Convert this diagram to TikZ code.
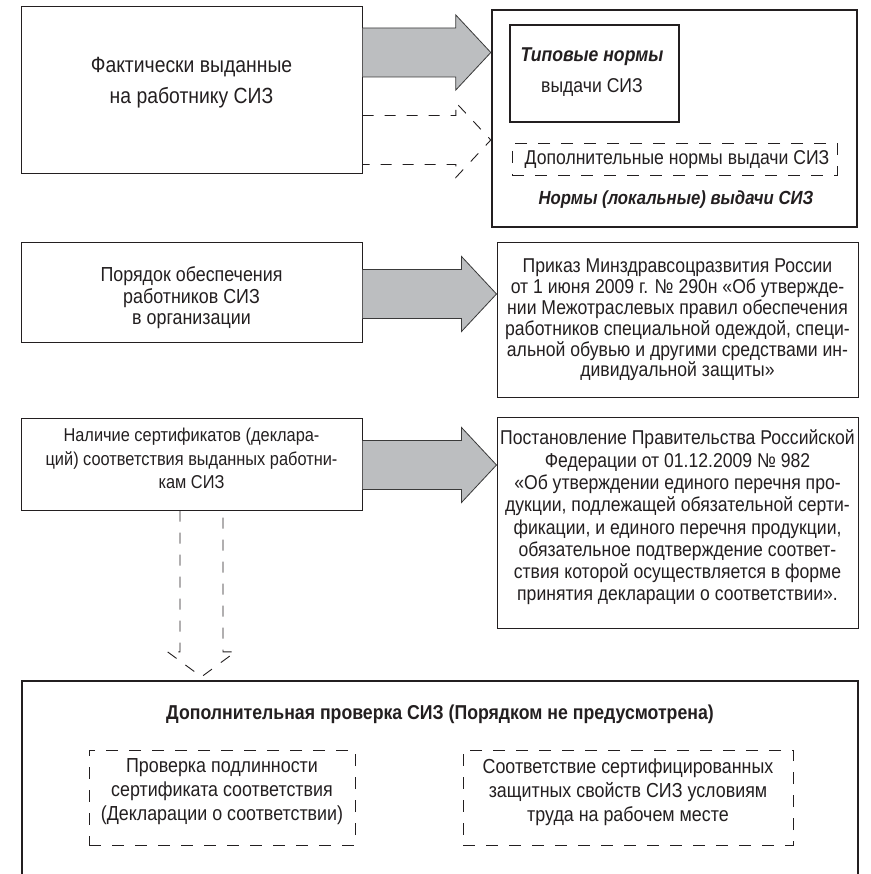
\documentclass[tikz,border=0pt]{standalone}
\usepackage{fontspec}
\setmainfont{Liberation Sans}[FakeStretch=0.88]
\usetikzlibrary{calc}

\definecolor{ink}{HTML}{231F20}
\definecolor{arrowfill}{HTML}{BCBEC0}
\definecolor{arrowline}{HTML}{3A3A3A}

\tikzset{
  frame/.style={draw=ink, line width=1pt, rectangle, inner sep=0pt},
  heavyframe/.style={frame, line width=2.4pt},
  dashframe/.style={frame, line width=0.9pt, dash pattern=on 12pt off 11pt},
  txt/.style={text=ink, align=center, inner sep=0pt,
    font=\fontsize{20}{20.8}\selectfont},
  % horizontal block arrow: body 49pt high, head 75pt high, head 35pt long
  hblock/.style={to path={let \p1=(\tikztostart), \p2=(\tikztotarget) in
    (\x1,\y1+24.5pt) -- (\x2-35pt,\y1+24.5pt) -- (\x2-35pt,\y1+37.5pt)
    -- (\x2,\y1) -- (\x2-35pt,\y1-37.5pt) -- (\x2-35pt,\y1-24.5pt)
    -- (\x1,\y1-24.5pt)}},
  % vertical block arrow pointing down
  vblock/.style={to path={let \p1=(\tikztostart), \p2=(\tikztotarget) in
    (\x1-21.5pt,\y1) -- (\x1-21.5pt,\y2+25pt) -- (\x1-34pt,\y2+25pt)
    -- (\x1,\y2) -- (\x1+34pt,\y2+25pt) -- (\x1+21.5pt,\y2+25pt)
    -- (\x1+21.5pt,\y1)}},
  solidarrow/.style={fill=arrowfill, draw=arrowline, line width=0.8pt, line join=miter},
  dasharrow/.style={draw=ink, line width=0.9pt, dash pattern=on 11pt off 11pt}
}

\begin{document}
\begin{tikzpicture}[x=1pt, y=-1pt]
\clip (0,0) rectangle (870,874);
\fill[white] (0,0) rectangle (870,874);

% left column
\node[frame, minimum width=341pt, minimum height=167pt] (f1) at (191.5,90.5) {};
\node[txt, font=\fontsize{22}{31}\selectfont] (f1t) at (191.5,82.5)
  {Фактически выданные\\на работнику СИЗ};

\node[frame, minimum width=341pt, minimum height=99pt] (f2) at (191.5,292.5) {};
\node[txt, font=\fontsize{20.3}{21.5}\selectfont] (f2t) at (191.5,298)
  {Порядок обеспечения\\работников СИЗ\\в организации};

\node[frame, minimum width=341pt, minimum height=92pt] (f3) at (191.5,464) {};
\node[txt, font=\fontsize{18.6}{23.5}\selectfont] (f3t) at (191.5,458.5)
  {Наличие сертификатов (деклара-\\ций) соответствия выданных работни-\\кам СИЗ};

% right column
\node[heavyframe, minimum width=365pt, minimum height=217pt] (r1) at (674.5,118.5) {};
\node[frame, line width=2pt, minimum width=169pt, minimum height=97pt] (t1) at (594.5,73.5) {};
\node[txt, font=\fontsize{20}{31}\selectfont] (t1t) at (592,72)
  {{\bfseries\itshape Типовые нормы}\\выдачи СИЗ};
\node[dashframe, minimum width=325pt, minimum height=32pt] (d1) at (674.5,159) {};
\node[txt] (d1t) at (677,160) {Дополнительные нормы выдачи СИЗ};
\node[txt, font=\fontsize{19}{20.8}\bfseries\itshape] (r1t) at (676,200)
  {Нормы (локальные) выдачи СИЗ};

\node[frame, minimum width=361pt, minimum height=154pt] (r2) at (677.5,320) {};
\node[txt] (r2t) at (677.5,320)
  {Приказ Минздравсоцразвития России\\
   от 1 июня 2009 г. № 290н «Об утвержде-\\
   нии Межотраслевых правил обеспечения\\
   работников специальной одеждой, специ-\\
   альной обувью и другими средствами ин-\\
   дивидуальной защиты»};

\node[frame, minimum width=361pt, minimum height=211pt] (r3) at (677.5,522.5) {};
\node[txt, font=\fontsize{20}{22.3}\selectfont] (r3t) at (677.5,517.5)
  {Постановление Правительства Российской\\
   Федерации от 01.12.2009 № 982\\
   «Об утверждении единого перечня про-\\
   дукции, подлежащей обязательной серти-\\
   фикации, и единого перечня продукции,\\
   обязательное подтверждение соответ-\\
   ствия которой осуществляется в форме\\
   принятия декларации о соответствии».};

% bottom block
\node[heavyframe, minimum width=836pt, minimum height=214pt] (b) at (440,788) {};
\node[txt, font=\fontsize{20.1}{20.8}\bfseries] (bt) at (440,714)
  {Дополнительная проверка СИЗ (Порядком не предусмотрена)};
\node[dashframe, minimum width=266pt, minimum height=95pt] (b1) at (222,797.5) {};
\node[txt, font=\fontsize{20.3}{24}\selectfont] (b1t) at (222,792)
  {Проверка подлинности\\сертификата соответствия\\(Декларации о соответствии)};
\node[dashframe, minimum width=330pt, minimum height=95pt] (b2) at (628,797.5) {};
\node[txt, font=\fontsize{20.3}{24}\selectfont] (b2t) at (628,792)
  {Соответствие сертифицированных\\защитных свойств СИЗ условиям\\труда на рабочем месте};

% connectors
\draw[solidarrow] ([yshift=38pt]f1.east) to[hblock] (r1.west);
\draw[dasharrow] ([yshift=-49.5pt]f1.east) to[hblock] (r1.west);
\draw[solidarrow] ([yshift=-1.5pt]f2.east) to[hblock] (r2.west);
\draw[solidarrow] ([yshift=-1pt]f3.east) to[hblock] (r3.west);
\draw[dasharrow] ([xshift=10pt]f3.south) to[vblock] ([xshift=10pt,yshift=3pt]b.north);
\end{tikzpicture}
\end{document}
